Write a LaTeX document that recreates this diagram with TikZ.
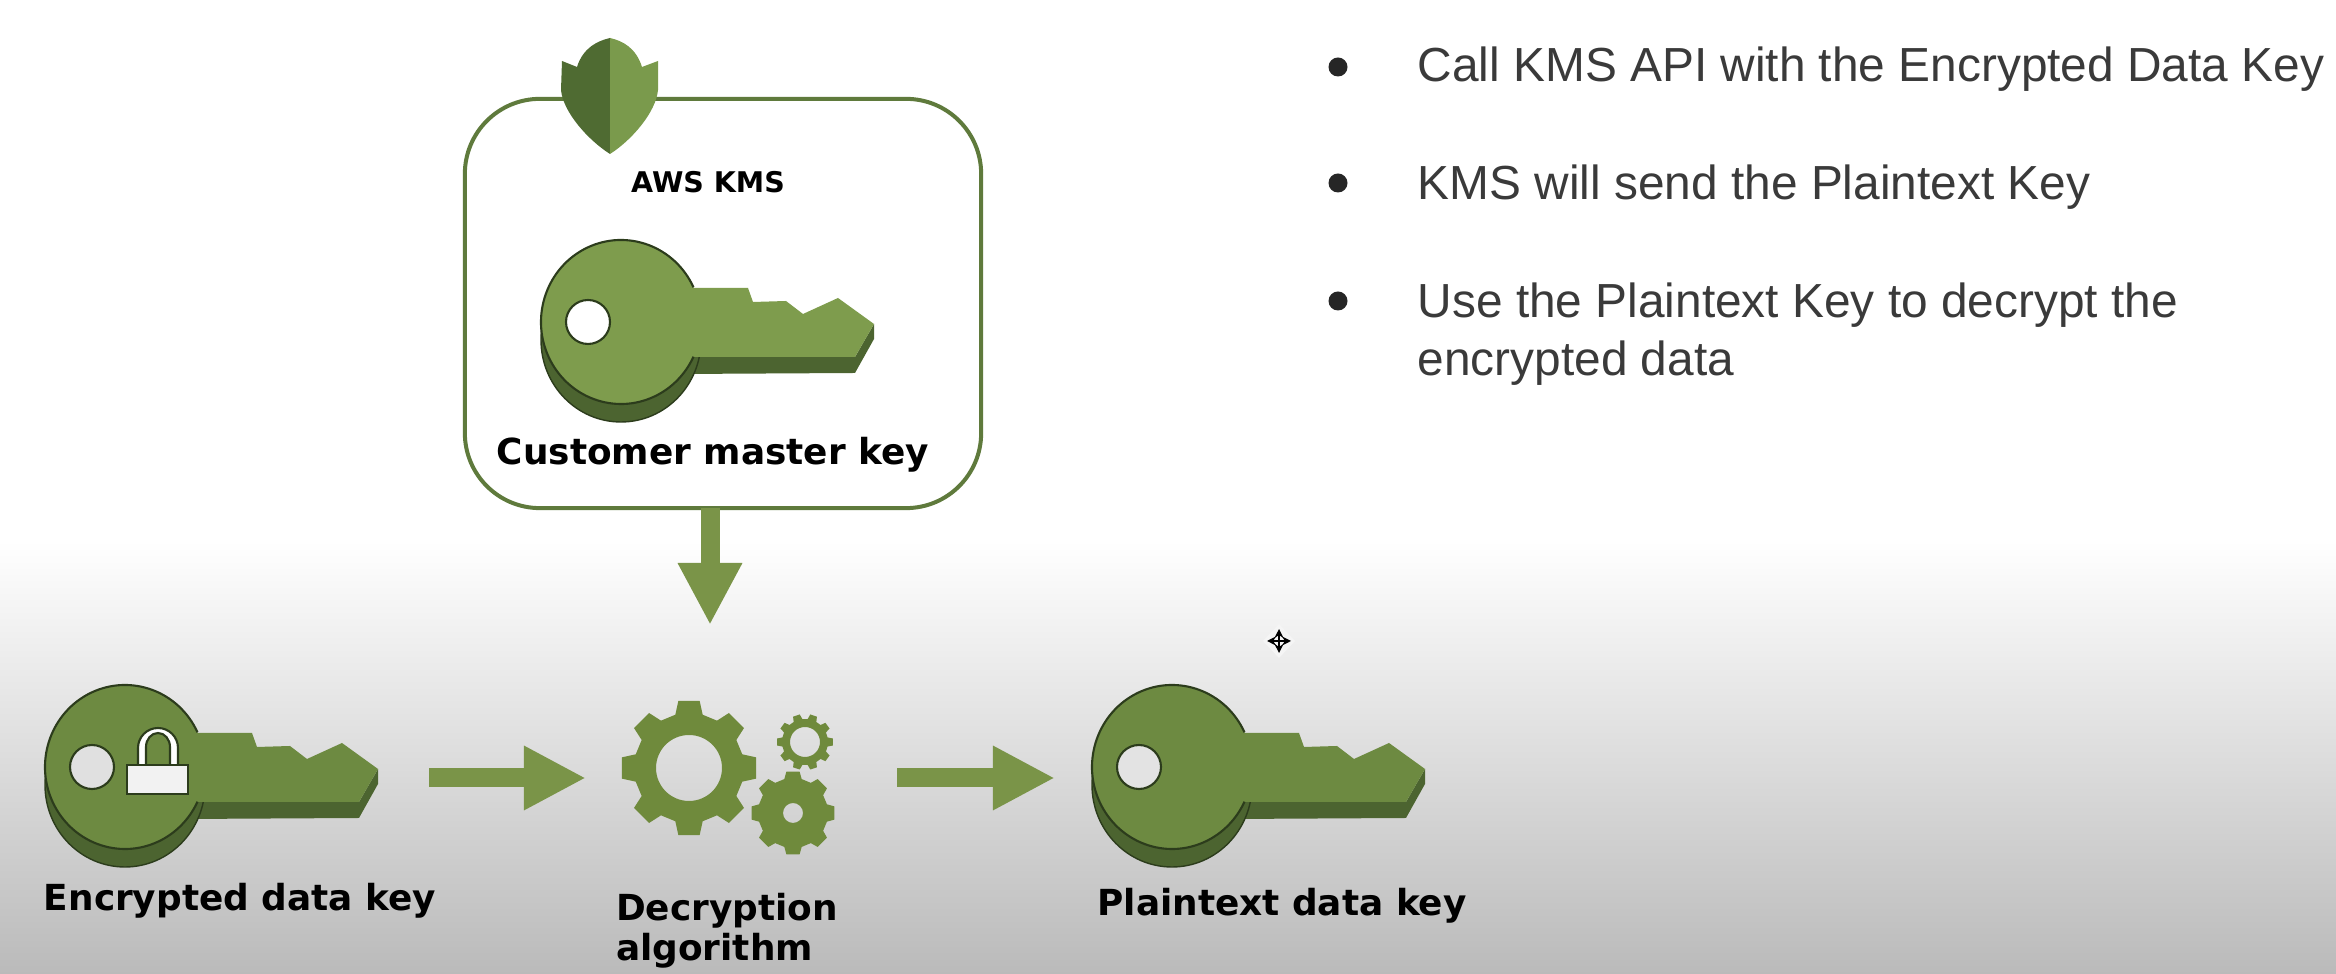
\documentclass[tikz,border=0pt]{standalone}
\usepackage{fontspec}
\usepackage{xcolor}
\usetikzlibrary{arrows.meta}
\setmainfont{Liberation Sans}
\newfontfamily\iconfont{DejaVu Sans}

\definecolor{keylight}{HTML}{7E9C4D}
\definecolor{keydark}{HTML}{6D8A41}
\definecolor{keyside}{HTML}{4C6430}
\definecolor{keyline}{HTML}{2C3C1C}
\definecolor{flowgreen}{HTML}{7A9448}
\definecolor{boxgreen}{HTML}{5F7A3C}
\definecolor{gearfill}{HTML}{6F8A3C}
\definecolor{shieldleft}{HTML}{4F6B32}
\definecolor{shieldright}{HTML}{7A9A4C}
\definecolor{bullettext}{HTML}{3A3A3A}

\tikzset{
  hitbox/.style={inner sep=0pt, outer sep=0pt},
  flowarrow/.style={draw=flowgreen, line width=.19cm, -{Triangle[width=.6cm,length=.62cm]}},
  iconlabel/.style={font=\iconfont\bfseries\fontsize{10.2}{11.4}\selectfont, text=black, align=left, inner sep=0pt},
  pointtext/.style={font=\fontsize{13.6}{16.5}\selectfont, text=bullettext, anchor=west, inner sep=0pt},
  pics/keyicon/.style n args={2}{code={
    % side of the key, then its face
    \fill[keyside] (60,35) -- (234,35) -- (253,2) -- (253,17) -- (234,51) -- (60,52) -- cycle;
    \draw[keyline, fill=keyside, line width=.4pt] (0,18) circle[x radius=80, y radius=82];
    \fill[#1] (0,0) circle[x radius=80, y radius=82];
    \fill[#1] (70,-34) -- (77,-34) -- (127,-34) -- (132,-20) -- (165,-21) -- (182,-8) -- (217,-24) -- (253,2) -- (234,35) -- (70,35) -- cycle;
    \draw[keyline, line width=.6pt] (-25:80 and 82) arc[start angle=-25, end angle=-335, x radius=80, y radius=82];
    \draw[keyline, fill=#2, line width=.6pt] (-33,0) circle[radius=22];
  }},
  pics/gearicon/.style n args={4}{code={
    \pgfmathsetmacro\gearstep{360/#1}
    \fill[gearfill, even odd rule] ({-.32*\gearstep}:#3)
      \foreach \k [evaluate=\k as \a using \k*\gearstep] in {0,...,\numexpr#1-1\relax} {
        -- ({\a-.32*\gearstep}:#3) -- ({\a-.2*\gearstep}:#2) -- ({\a+.2*\gearstep}:#2) -- ({\a+.32*\gearstep}:#3)
      } -- cycle (0,0) circle[radius=#4];
  }}
}

\begin{document}
\begin{tikzpicture}[x=.01cm, y=-.01cm]
  \useasboundingbox (0,0) rectangle (2336,974);
  % background
  \fill[white] (0,0) rectangle (2336,974);
  \shade[top color=white, bottom color=black!27] (0,540) rectangle (2336,974);

  % KMS box with shield
  \node[draw=boxgreen, line width=.04cm, fill=white, rounded corners=.75cm, minimum width=5.16cm, minimum height=4.09cm, hitbox] (kmsbox) at (723,303.5) {};
  \fill[shieldleft] (610,38) .. controls (597,41) and (583,48) .. (577,67) -- (562,61) -- (561,90) .. controls (563,112) and (588,140) .. (610,154) -- cycle;
  \fill[shieldright] (610,38) .. controls (623,41) and (636,48) .. (642,67) -- (658,61) -- (658,90) .. controls (656,112) and (632,140) .. (610,154) -- cycle;
  \node[iconlabel, font=\iconfont\bfseries\fontsize{8.1}{9}\selectfont] (kmstitle) at (708,182) {AWS KMS};
  \pic at (621,322) {keyicon={keylight}{white}};
  \node[iconlabel] (cmklabel) at (713,455) {Customer master key};

  % bottom row
  \pic at (125,767) {keyicon={keydark}{black!12}};
  \pic at (1172,767) {keyicon={keydark}{black!11}};

  % padlock on the encrypted key
  \draw[keyline, fill=white, line width=.6pt] (138,766) -- (138,748) arc[start angle=180, end angle=360, x radius=20, y radius=20] -- (178,766) -- cycle;
  \draw[keyline, fill=keydark, line width=.6pt] (146,766) -- (146,747) arc[start angle=180, end angle=360, x radius=12, y radius=14] -- (170,766) -- cycle;
  \draw[keyline, fill=black!5, line width=.8pt] (127,765) rectangle (188,794);

  % gears
  \pic at (689,768) {gearicon={8}{68}{55}{33}};
  \pic at (805,742) {gearicon={10}{28}{23}{15}};
  \pic at (793,813) {gearicon={8}{42}{35}{10}};

  \node[hitbox, minimum width=3.84cm, minimum height=1cm] (enckey) at (237,778) {};
  \node[hitbox, minimum width=3.11cm, minimum height=1cm] (gears) at (741.5,778) {};
  \node[hitbox, minimum width=3.72cm, minimum height=1cm] (plainkey) at (1241,778) {};
  \coordinate (algotop) at (710,625);

  \node[iconlabel] (enclabel) at (240,901) {Encrypted data key};
  \node[iconlabel] (algolabel) at (727,931) {Decryption\\algorithm};
  \node[iconlabel] (plainlabel) at (1282,906) {Plaintext data key};

  % arrows
  \draw[flowarrow] (kmsbox.south -| algotop) -- (algotop);
  \draw[flowarrow] (enckey) -- (gears);
  \draw[flowarrow] (gears) -- (plainkey);

  % move cursor
  \fill[black!4] (1279,624) -- (1295,641) -- (1279,658) -- (1263,641) -- cycle;
  \draw[black, line width=.7pt, {Stealth[length=.09cm,width=.09cm]}-{Stealth[length=.09cm,width=.09cm]}] (1267,641) -- (1291,641);
  \draw[black, line width=.7pt, {Stealth[length=.09cm,width=.09cm]}-{Stealth[length=.09cm,width=.09cm]}] (1279,629) -- (1279,653);

  % bullet points
  \foreach \ypos in {67,183,301} \fill[black!85] (1338,\ypos) circle (9.5);
  \node[pointtext] (pointa) at (1417,69) {Call KMS API with the Encrypted Data Key};
  \node[pointtext] (pointb) at (1417,187) {KMS will send the Plaintext Key};
  \node[pointtext, align=left] (pointc) at (1417,334) {Use the Plaintext Key to decrypt the\\encrypted data};
\end{tikzpicture}
\end{document}
